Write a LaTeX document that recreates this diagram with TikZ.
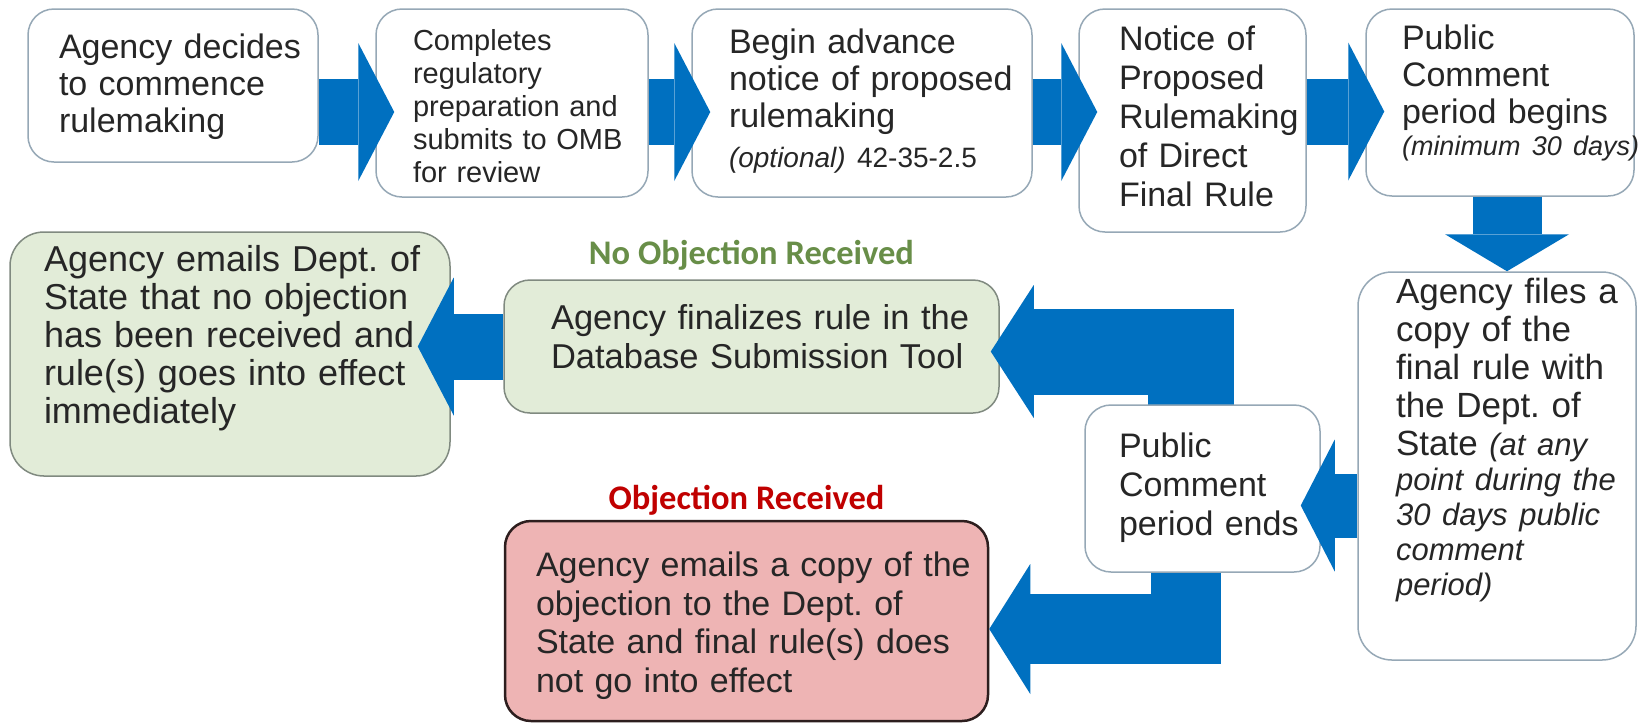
\documentclass[tikz,border=0pt]{standalone}
\usepackage{fontspec}
\setmainfont{Liberation Sans}
\newfontfamily\calibrifont{Carlito}
\usetikzlibrary{arrows.meta,calc}
\pgfdeclarelayer{fg}
\pgfsetlayers{main,fg}
\definecolor{arrowblue}{RGB}{0,112,192}
\definecolor{wborder}{RGB}{150,168,182}
\definecolor{gfill}{RGB}{226,236,216}
\definecolor{gborder}{RGB}{128,138,128}
\definecolor{rfill}{RGB}{238,180,180}
\definecolor{rborder}{RGB}{45,30,30}
\definecolor{txtgray}{RGB}{38,38,38}
\definecolor{lgreen}{RGB}{104,142,72}
\definecolor{lred}{RGB}{192,0,0}
\frenchspacing
\newcommand{\fs}[2]{\fontsize{#1pt}{#2pt}\selectfont}
% optional argument: extra space below the block (positive moves text up, negative moves it down)
\newcommand{\boxlines}[2][0pt]{\rlap{\begin{tabular}{@{}l@{}}#2\\[#1]\end{tabular}}}
\tikzset{
  box/.style={rounded corners=26pt, line width=1.5pt, draw=wborder, fill=white,
    inner ysep=0pt, align=left, text=txtgray, font=\fs{34}{37}},
  gbox/.style={box, fill=gfill, draw=gborder},
  rbox/.style={box, fill=rfill, draw=rborder, line width=2.5pt},
  lbl/.style={font=\calibrifont\bfseries\fs{34.5}{36}, inner sep=0pt},
  harrow/.style={draw=arrowblue, line width=66pt,
    -{Triangle[width=138pt,length=36pt,line width=0pt]}},
  toparrow/.style={harrow, shorten >=-19pt},
}
\begin{document}
\begin{tikzpicture}[x=1pt,y=-1pt]
\fill[white] (0,0) rectangle (1640,724);
\useasboundingbox (0,0) rectangle (1640,724);

% top row
\node[box, minimum width=290pt, minimum height=153pt, inner xsep=31pt, text width=228pt]
  (b1) at (173,85.5) {\boxlines[-6pt]{Agency decides\\to commence\\rulemaking}};
\node[box, font=\fs{29}{33}, minimum width=272pt, minimum height=188pt, inner xsep=37pt, text width=198pt]
  (b2) at (512,103) {\boxlines[-14pt]{Completes\\regulatory\\preparation and\\submits to OMB\\for review}};
\node[box, minimum width=340pt, minimum height=188pt, inner xsep=37pt, text width=266pt]
  (b3) at (862,103) {\boxlines{Begin advance\\notice of proposed\\rulemaking\\[3pt]\fs{28}{30}\textit{(optional)} 42-35-2.5}};
\node[box, font=\fs{34}{39}, minimum width=227pt, minimum height=223pt, inner xsep=40pt, text width=147pt]
  (b4) at (1192.5,120.5) {\boxlines{Notice of\\Proposed\\Rulemaking\\of Direct\\Final Rule}};
\node[box, minimum width=268pt, minimum height=187pt, inner xsep=36pt, text width=196pt]
  (b5) at (1500,102.5) {\boxlines[15pt]{Public\\Comment\\period begins\\[-4.5pt]\fs{27}{30}\itshape (minimum 30 days)}};

% right column
\node[box, font=\fs{35}{38}, rounded corners=34pt, minimum width=278pt, minimum height=388pt, inner xsep=38pt, text width=202pt]
  (b6) at (1497,466) {\boxlines[48pt]{Agency files a\\copy of the\\final rule with\\the Dept. of\\State {\fs{31}{33}\itshape (at any}\\[-3pt]
  \fs{31}{33}\itshape point during the\\[-3pt]\fs{31}{33}\itshape 30 days public\\[-3pt]\fs{31}{33}\itshape comment\\[-3pt]\fs{31}{33}\itshape period)}};

\begin{pgfonlayer}{fg}
\node[box, font=\fs{34}{39}, minimum width=235pt, minimum height=167pt, inner xsep=34pt, text width=167pt]
  (b7) at (1202.5,488.5) {\boxlines{Public\\Comment\\period ends}};
\draw[harrow, line width=64pt, -{Triangle[width=132pt,length=34pt,line width=0pt]}, shorten >=-20pt]
  ($(b6.west |- b7.east)+(0,17)$) -- ($(b7.east)+(0,17)$);
\end{pgfonlayer}

% outcomes
\node[gbox, font=\fs{34.5}{39}, minimum width=495pt, minimum height=133pt, inner xsep=47pt, text width=401pt]
  (b8) at (751.5,346.5) {\boxlines[10pt]{Agency finalizes rule in the\\Database Submission Tool}};
\node[gbox, font=\fs{36}{38}, rounded corners=34pt, minimum width=440pt, minimum height=244pt, inner xsep=34pt, text width=372pt]
  (b9) at (230,354) {\boxlines[29pt]{Agency emails Dept. of\\State that no objection\\has been received and\\rule(s) goes into effect\\immediately}};
\node[rbox, font=\fs{34}{38.5}, minimum width=483pt, minimum height=200pt, inner xsep=31pt, text width=421pt]
  (b10) at (746.5,621) {\boxlines[-12pt]{Agency emails a copy of the\\objection to the Dept. of\\State and final rule(s) does\\not go into effect}};

\node[lbl, text=lgreen] (lab1) at ($(b8.north)+(0,-24)$) {No Objection Received};
\node[lbl, text=lred] (lab2) at ($(b10.north)+(0,-19)$) {Objection Received};

% arrows
\draw[toparrow] ($(b1.east |- b2.west)+(0,9)$) -- ($(b2.west)+(0,9)$);
\draw[toparrow] ($(b2.east)+(0,9)$) -- ($(b3.west)+(0,9)$);
\draw[toparrow] ($(b3.east)+(0,9)$) -- ($(b4.west |- b3.east)+(0,9)$);
\draw[toparrow] ($(b4.east |- b5.west)+(0,9)$) -- ($(b5.west)+(0,9)$);
\coordinate (dtop) at ($(b5.south)+(7,0)$);
\draw[draw=arrowblue, line width=69pt, -{Triangle[width=124pt,length=37pt,line width=0pt]}] (dtop) -- (dtop |- b6.north);
\draw[harrow, shorten >=-33pt] (b8.west) -- (b9.east |- b8.west);
\draw[draw=arrowblue, line width=86pt, -{Triangle[width=133pt,length=43pt,line width=0pt]}, shorten >=-9pt]
  ($(b7.center)+(-12,0)$) |- ($(b8.east)+(0,5)$);
\draw[draw=arrowblue, line width=70pt, -{Triangle[width=130pt,length=41pt,line width=0pt]}]
  ($(b7.center)+(-17,0)$) |- ($(b10.east)+(0,8)$);
\end{tikzpicture}
\end{document}
